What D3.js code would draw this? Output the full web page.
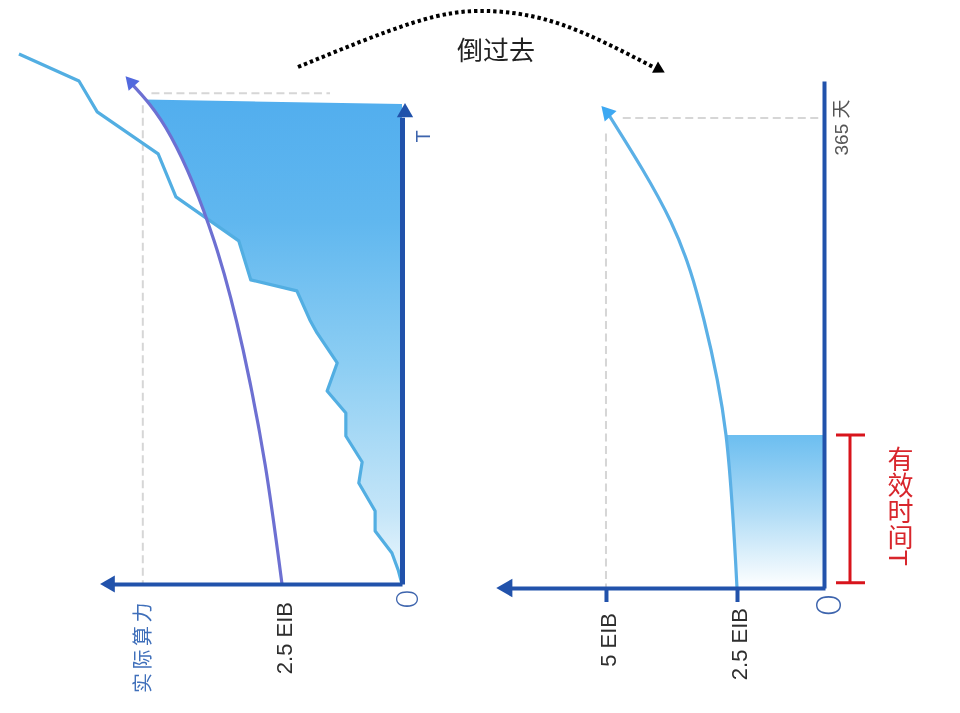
<!DOCTYPE html>
<html>
<head>
<meta charset="utf-8">
<script src="https://cdnjs.cloudflare.com/ajax/libs/d3/7.8.5/d3.min.js"></script>
<style>
  html, body { margin: 0; padding: 0; background: #fff; }
  svg { display: block; filter: blur(0.4px); }
  text { font-family: "Liberation Sans", "Noto Sans CJK SC", sans-serif; }
</style>
</head>
<body>
<svg id="chart" width="960" height="713"></svg>
<script>
// left chart: actual hashrate, [EIB, days]
const actualEib  = [7.98, 6.73, 6.35, 5.08, 4.71, 3.40, 3.15, 2.19, 1.92, 1.77, 1.35, 1.56, 1.17, 1.17, 0.83, 0.90, 0.56, 0.56, 0.21, 0.08, 0];
const actualDays = [399.7, 379.3, 356, 324.3, 291.9, 258.7, 229.3, 221, 199.1, 189.3, 166.7, 145.5, 129, 111.6, 92, 76.2, 55, 40, 23.4, 10.6, 0];

// left chart: growth curve
const growthEib  = [2.5, 2.85, 3.31, 3.92, 4.81, 5.67];
const growthDays = [0, 89.7, 176.5, 259.4, 337.1, 378.6];

// right chart: same curve turned over
const flippedEib  = [2.5, 2.71, 3.13, 3.76, 4.97];
const flippedDays = [0, 118.8, 208.1, 284.2, 369];

const effectiveDays = 118.8;
const leftTicks = [0, 2.5, 5.4];
const leftTickLabels = ['0', '2.5 EIB', '实际算力'];
const rightTicks = [0, 2.5, 5];
const rightTickLabels = ['0', '2.5 EIB', '5 EIB'];

// dotted arc at the top, as share of its span and of its rise
const arcSpan = [0, 0.315, 0.518, 0.726, 0.973];
const arcRise = [0, 0.79, 1, 0.75, 0];

const svg = d3.select('#chart');

const xL = d3.scaleLinear().domain([0, 6.2]).range([402, 104.4]);
const yL = d3.scaleLinear().domain([0, 352]).range([584, 117.2]);
const xR = d3.scaleLinear().domain([0, 2.5, 6.9]).range([825, 737, 506.4]);
const yR = d3.scaleLinear().domain([0, 393.7]).range([588, 81]);
const xArc = d3.scaleLinear().domain([0, 1]).range([298, 663]);
const yArc = d3.scaleLinear().domain([0, 1]).range([67, 11]);

const axisBlue = '#2152ab';

const defs = svg.append('defs');

function addGradient(id, y1, y2, stops) {
    const g = defs.append('linearGradient').attr('id', id)
        .attr('gradientUnits', 'userSpaceOnUse')
        .attr('x1', 0).attr('x2', 0).attr('y1', y1).attr('y2', y2);
    stops.forEach(s => g.append('stop').attr('offset', s[0]).attr('stop-color', s[1]));
}
addGradient('fillL', yL(365), yL(0), [[0, '#52aeee'], [0.25, '#60b7ef'], [0.55, '#8dcef3'], [0.85, '#c4e5f8'], [1, '#eef8fd']]);
addGradient('fillR', yR(effectiveDays), yR(0), [[0, '#6cbef0'], [0.5, '#b0dcf6'], [1, '#ffffff']]);

const lineL = d3.line().x(d => xL(d[0])).y(d => yL(d[1]));
const curveL = d3.line().x(d => xL(d[0])).y(d => yL(d[1])).curve(d3.curveNatural);
const curveR = d3.line().x(d => xR(d[0])).y(d => yR(d[1])).curve(d3.curveNatural);

const actual = actualEib.map((v, i) => [v, actualDays[i]]);
const growth = growthEib.map((v, i) => [v, growthDays[i]]);
const flipped = flippedEib.map((v, i) => [v, flippedDays[i]]);

// the fill is the part right of the growth curve and right of the actual line
defs.append('clipPath').attr('id', 'rightOfGrowth').append('path')
    .attr('d', curveL(growth) + `L${xL(0)},${yL(378)}L${xL(0)},${yL(0)}Z`);
defs.append('clipPath').attr('id', 'rightOfFlipped').append('path')
    .attr('d', curveR(flipped) + `L${xR(0)},${yR(369)}L${xR(0)},${yR(0)}Z`);

const lowerActual = actual.filter(d => d[1] <= 291.9);
svg.append('path')
    .attr('d', lineL(lowerActual) + `L${xL(0)},${yL(0)}L${xL(0)},${yL(362)}L${xL(5.7)},${yL(365.5)}Z`)
    .attr('fill', 'url(#fillL)')
    .attr('clip-path', 'url(#rightOfGrowth)');

svg.append('rect')
    .attr('x', xR(3)).attr('y', yR(effectiveDays))
    .attr('width', xR(0) - xR(3)).attr('height', yR(0) - yR(effectiveDays))
    .attr('fill', 'url(#fillR)')
    .attr('clip-path', 'url(#rightOfFlipped)');

// guide lines
function guide(x1, y1, x2, y2) {
    svg.append('line')
        .attr('x1', x1).attr('y1', y1).attr('x2', x2).attr('y2', y2)
        .attr('stroke', '#d6d6d6').attr('stroke-width', 2).attr('stroke-dasharray', '8 4.5');
}
guide(xL(5.4), yL(361), xL(5.4), yL(0));
guide(xL(5.22), yL(370), xL(1.5), yL(370));
guide(xR(5), yR(353), xR(5), yR(0));
guide(xR(4.68), yR(365), xR(0.1), yR(365));

// curves
svg.append('path').attr('d', lineL(actual)).attr('fill', 'none')
    .attr('stroke', '#52aee2').attr('stroke-width', 3.2).attr('stroke-linejoin', 'round');
svg.append('path').attr('d', curveL(growth)).attr('fill', 'none')
    .attr('stroke', '#6d70d2').attr('stroke-width', 3.2);
svg.append('path').attr('d', curveR(flipped)).attr('fill', 'none')
    .attr('stroke', '#5bb0e6').attr('stroke-width', 3.2);

// arrow heads
const triangle = s => d3.symbol().type(d3.symbolTriangle).size(s)();
function head(x, y, angle, size, colour) {
    svg.append('path').attr('d', triangle(size))
        .attr('transform', `translate(${x},${y}) rotate(${angle})`)
        .attr('fill', colour);
}
head(xL(5.64), yL(378), -42, 95, '#5269de');
head(xR(4.97), yR(369), -42, 110, '#3da8f2');

// axes
function styleAxis(g, width) {
    g.select('.domain').attr('stroke', axisBlue).attr('stroke-width', width);
}
function rotateLabels(g, labels, offset) {
    g.selectAll('.tick text')
        .text((d, i) => labels[i])
        .attr('x', null).attr('y', null).attr('dy', null)
        .attr('text-anchor', 'end')
        .attr('dominant-baseline', 'central')
        .attr('transform', `translate(2,${offset}) rotate(-90)`)
        .attr('font-size', 22)
        .attr('fill', '#2e2e2e');
}
function styleZero(g, size, dx, dy) {
    g.selectAll('.tick text').filter(d => d === 0)
        .attr('font-size', size).attr('fill', '#3d64ad')
        .attr('text-anchor', 'middle')
        .style('font-family', 'Lato, "Liberation Sans"').attr('font-weight', 300)
        .attr('transform', `translate(${dx},${dy}) rotate(-90)`);
}

const axisLB = svg.append('g')
    .attr('transform', `translate(0,${yL(0)})`)
    .call(d3.axisBottom(xL).tickValues(leftTicks).tickSize(0).tickSizeOuter(0));
styleAxis(axisLB, 4);
rotateLabels(axisLB, leftTickLabels, 18);
styleZero(axisLB, 31, 3, 15);
axisLB.selectAll('.tick text').filter(d => d === 5.4)
    .attr('fill', '#3f6fba').attr('font-size', 20)
    .attr('letter-spacing', 3.5)
    .attr('transform', 'translate(0,15) rotate(-90)');

const axisLV = svg.append('g')
    .attr('transform', `translate(${xL(0)},0)`)
    .call(d3.axisRight(yL).tickValues([338]).tickFormat(() => 'T').tickSize(0).tickSizeOuter(0));
styleAxis(axisLV, 5);
axisLV.selectAll('.tick text')
    .attr('x', null).attr('dy', null)
    .attr('text-anchor', 'middle').attr('dominant-baseline', 'central')
    .attr('transform', 'translate(21,0) rotate(-90)')
    .attr('font-size', 20).attr('fill', '#3d64ad');

const axisRB = svg.append('g')
    .attr('transform', `translate(0,${yR(0)})`)
    .call(d3.axisBottom(xR).tickValues(rightTicks).tickSize(14).tickSizeOuter(0));
styleAxis(axisRB, 4);
axisRB.selectAll('.tick line').attr('stroke', axisBlue).attr('stroke-width', 4)
    .filter(d => d === 0).remove();
rotateLabels(axisRB, rightTickLabels, 20);
styleZero(axisRB, 36, 1, 17);
axisRB.selectAll('.tick text').filter(d => d === 5)
    .attr('transform', 'translate(2,25) rotate(-90)');

const axisRV = svg.append('g')
    .attr('transform', `translate(${xR(0) - 1},0)`)
    .call(d3.axisRight(yR).tickValues([365]).tickFormat(() => '365 天').tickSize(0).tickSizeOuter(0));
styleAxis(axisRV, 4);
axisRV.selectAll('.tick text')
    .attr('x', null).attr('dy', null)
    .attr('text-anchor', 'middle').attr('dominant-baseline', 'central')
    .attr('transform', 'translate(17,9) rotate(-90)')
    .attr('font-size', 19).attr('fill', '#555');

head(xL(0) + 3, yL(0) - 471.5, 0, 115, axisBlue);
head(xL(6.2) + 5.5, yL(0), -90, 125, axisBlue);
head(xR(6.9) + 0.6, yR(0), -90, 150, axisBlue);

// effective time bracket
const bx = xR(0) + 25;
svg.append('path')
    .attr('d', `M${bx - 14},${yR(effectiveDays)}H${bx + 15}M${bx},${yR(effectiveDays)}V${yR(4)}M${bx - 14},${yR(4)}H${bx + 15}`)
    .attr('fill', 'none').attr('stroke', '#d8141c').attr('stroke-width', 3);
svg.append('text')
    .attr('x', bx + 48).attr('y', yR(118) + 10)
    .style('writing-mode', 'vertical-rl')
    .attr('font-size', 26)
    .attr('fill', '#d8262c')
    .text('有效时间T');

// dotted arc
const arc = arcSpan.map((v, i) => [v, arcRise[i]]);
svg.append('path')
    .attr('d', d3.line().x(d => xArc(d[0])).y(d => yArc(d[1])).curve(d3.curveNatural)(arc))
    .attr('fill', 'none').attr('stroke', '#000')
    .attr('stroke-width', 4).attr('stroke-dasharray', '3.4 3');
head(xArc(0.987), yArc(-0.035), 118, 70, '#000');

svg.append('text')
    .attr('x', 496).attr('y', 60)
    .attr('text-anchor', 'middle')
    .attr('font-size', 26).attr('fill', '#222')
    .text('倒过去');
</script>
</body>
</html>
